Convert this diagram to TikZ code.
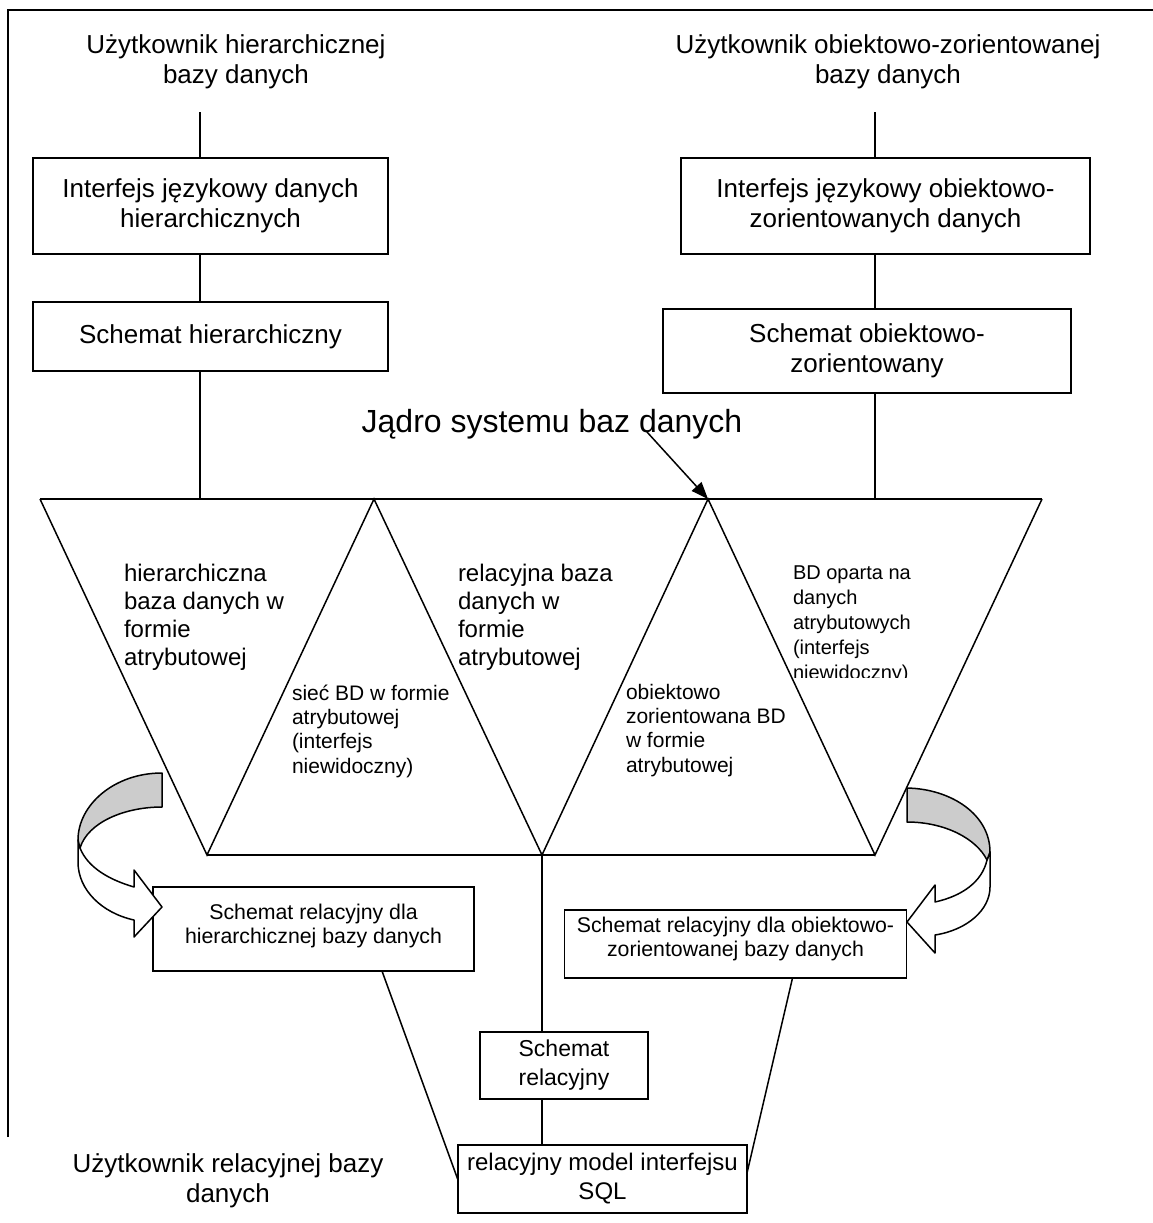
\documentclass[tikz,border=0pt]{standalone}
\usepackage{fontspec}
\setmainfont{Liberation Sans}
\usetikzlibrary{arrows.meta,calc}
\newcommand\fsz[2]{\fontsize{#1}{#2}\selectfont}

\begin{document}
\begin{tikzpicture}[x=1pt,y=-1pt,line width=1.5pt,
  every node/.style={inner sep=0pt,outer sep=0pt},
  box/.style={draw,line width=1.5pt,align=center},
  bigtext/.style={font=\fsz{26}{29.5},align=center},
  tritext/.style={font=\fsz{24}{27.7},align=left,anchor=base west},
  smalltri/.style={font=\fsz{21}{24.3},align=left,anchor=base west},
  boxsmall/.style={font=\fsz{21.3}{24},align=center,anchor=base},
  ribbonfront/.style={draw,fill=white,line width=1.5pt,line join=round},
  ribbonback/.style={draw,fill=black!20,line width=1.5pt,line join=round},
  pointer/.style={line width=1.5pt,-{Triangle[length=17pt,width=13pt]}}]

\useasboundingbox (0,0) rectangle (1153,1223);

% page frame (top and left edges)
\draw (8,1137) -- (8,10) -- (1153,10);

% users at the top (anchored on the baseline of the last line)
\node[bigtext,anchor=base] (uhier) at (236,83) {Użytkownik hierarchicznej\\bazy danych};
\node[bigtext,anchor=base] (uobj) at (888,83) {Użytkownik obiektowo-zorientowanej\\bazy danych};
\coordinate (lh) at (200,112);
\coordinate (lo) at (875,112);

% left column: hierarchical
\node[box,bigtext,minimum width=355pt,minimum height=96pt] (b1) at (210.5,206)
  {Interfejs językowy danych\\hierarchicznych};
\node[box,bigtext,minimum width=355pt,minimum height=69pt] (b2) at (210.5,336.5)
  {Schemat hierarchiczny};

% right column: object oriented
\node[box,bigtext,minimum width=409pt,minimum height=96pt] (b3) at (885.5,206)
  {Interfejs językowy obiektowo-\\zorientowanych danych};
\node[box,bigtext,minimum width=408pt,minimum height=84pt] (b4) at (867,351)
  {Schemat obiektowo-\\zorientowany};

% kernel: row of triangles
\coordinate (A0) at (40,499);
\coordinate (A1) at (374,499);
\coordinate (A2) at (708,499);
\coordinate (A3) at (1042,499);
\coordinate (B1) at (207,855);
\coordinate (B2) at (542,855);
\coordinate (B3) at (875,855);
\draw (A0) -- (A3);
\draw (B1) -- (B3);
\draw[line join=miter] (A0) -- (B1) -- (A1) -- (B2) -- (A2) -- (B3) -- (A3);

\node[font=\fsz{32}{36},anchor=base] (kernel) at (552,432) {Jądro systemu baz danych};
\coordinate (ktail) at (647,432);
\draw[pointer] (ktail) -- (A2);

% texts inside the triangles (anchored on the baseline of the last line)
\node[tritext] (t1) at (124,665) {hierarchiczna\\baza danych w\\formie\\atrybutowej};
\node[tritext] (t2) at (458,665) {relacyjna baza\\danych w\\formie\\atrybutowej};
\node[smalltri] (t3) at (292,773) {sieć BD w formie\\atrybutowej\\(interfejs\\niewidoczny)};
\node[smalltri] (t4) at (626,772) {obiektowo\\zorientowana BD\\w formie\\atrybutowej};
\begin{scope}
  \clip (780,540) rectangle (1000,677);
  \node[smalltri,font=\fsz{20}{25}] (t5) at (793,679)
    {BD oparta na\\danych\\atrybutowych\\(interfejs\\niewidoczny)};
\end{scope}

% column connectors
\draw (lh) -- (lh |- b1.north);
\draw (lh |- b1.south) -- (lh |- b2.north);
\draw (lh |- b2.south) -- (lh |- A0);
\draw (lo) -- (lo |- b3.north);
\draw (lo |- b3.south) -- (lo |- b4.north);
\draw (lo |- b4.south) -- (lo |- A0);

% relational schemas below
\node[box,minimum width=321pt,minimum height=84pt] (b5) at (313.5,929) {};
\node[boxsmall] (t6) at (313.5,943) {Schemat relacyjny dla\\hierarchicznej bazy danych};
\node[box,minimum width=342pt,minimum height=68pt] (b6) at (735.5,944) {};
\node[boxsmall] (t7) at (735.5,956.5) {Schemat relacyjny dla obiektowo-\\zorientowanej bazy danych};
\node[box,font=\fsz{23}{29},minimum width=168pt,minimum height=67pt] (b7) at (564,1065.5)
  {Schemat\\relacyjny};
\node[box,font=\fsz{24}{29},minimum width=289pt,minimum height=68pt] (b8) at (602.5,1179)
  {relacyjny model interfejsu\\SQL};
\node[bigtext,anchor=base] (urel) at (228,1202) {Użytkownik relacyjnej bazy\\danych};

\draw (B2) -- (B2 |- b7.north);
\draw (B2 |- b7.south) -- (B2 |- b8.north);
\draw ([xshift=229pt]b5.south west) -- ([yshift=33pt]b8.south west);
\draw ([xshift=-114pt]b6.south east) -- ([yshift=40pt]b8.south east);

% curved ribbon arrows
\draw[ribbonfront] (78,840) -- (78,862) .. controls (78,890) and (102,913) .. (134,920)
  -- (134,937) -- (162,907) -- (134,870) -- (134,887)
  .. controls (110,880) and (88,868) .. (80,848) -- cycle;
\draw[ribbonback] (162,773) .. controls (114,773) and (78,805) .. (78,840) -- (80,848)
  .. controls (88,822) and (125,807) .. (162,807) -- cycle;

\draw[ribbonfront] (990,852) -- (990,887) .. controls (990,910) and (967,930) .. (935,935)
  -- (935,953) -- (907,922) -- (935,885) -- (935,902)
  .. controls (962,896) and (982,882) .. (987,860) -- cycle;
\draw[ribbonback] (907,788) .. controls (952,789) and (990,815) .. (990,852) -- (987,860)
  .. controls (976,838) and (944,822) .. (907,822) -- cycle;
\end{tikzpicture}
\end{document}
